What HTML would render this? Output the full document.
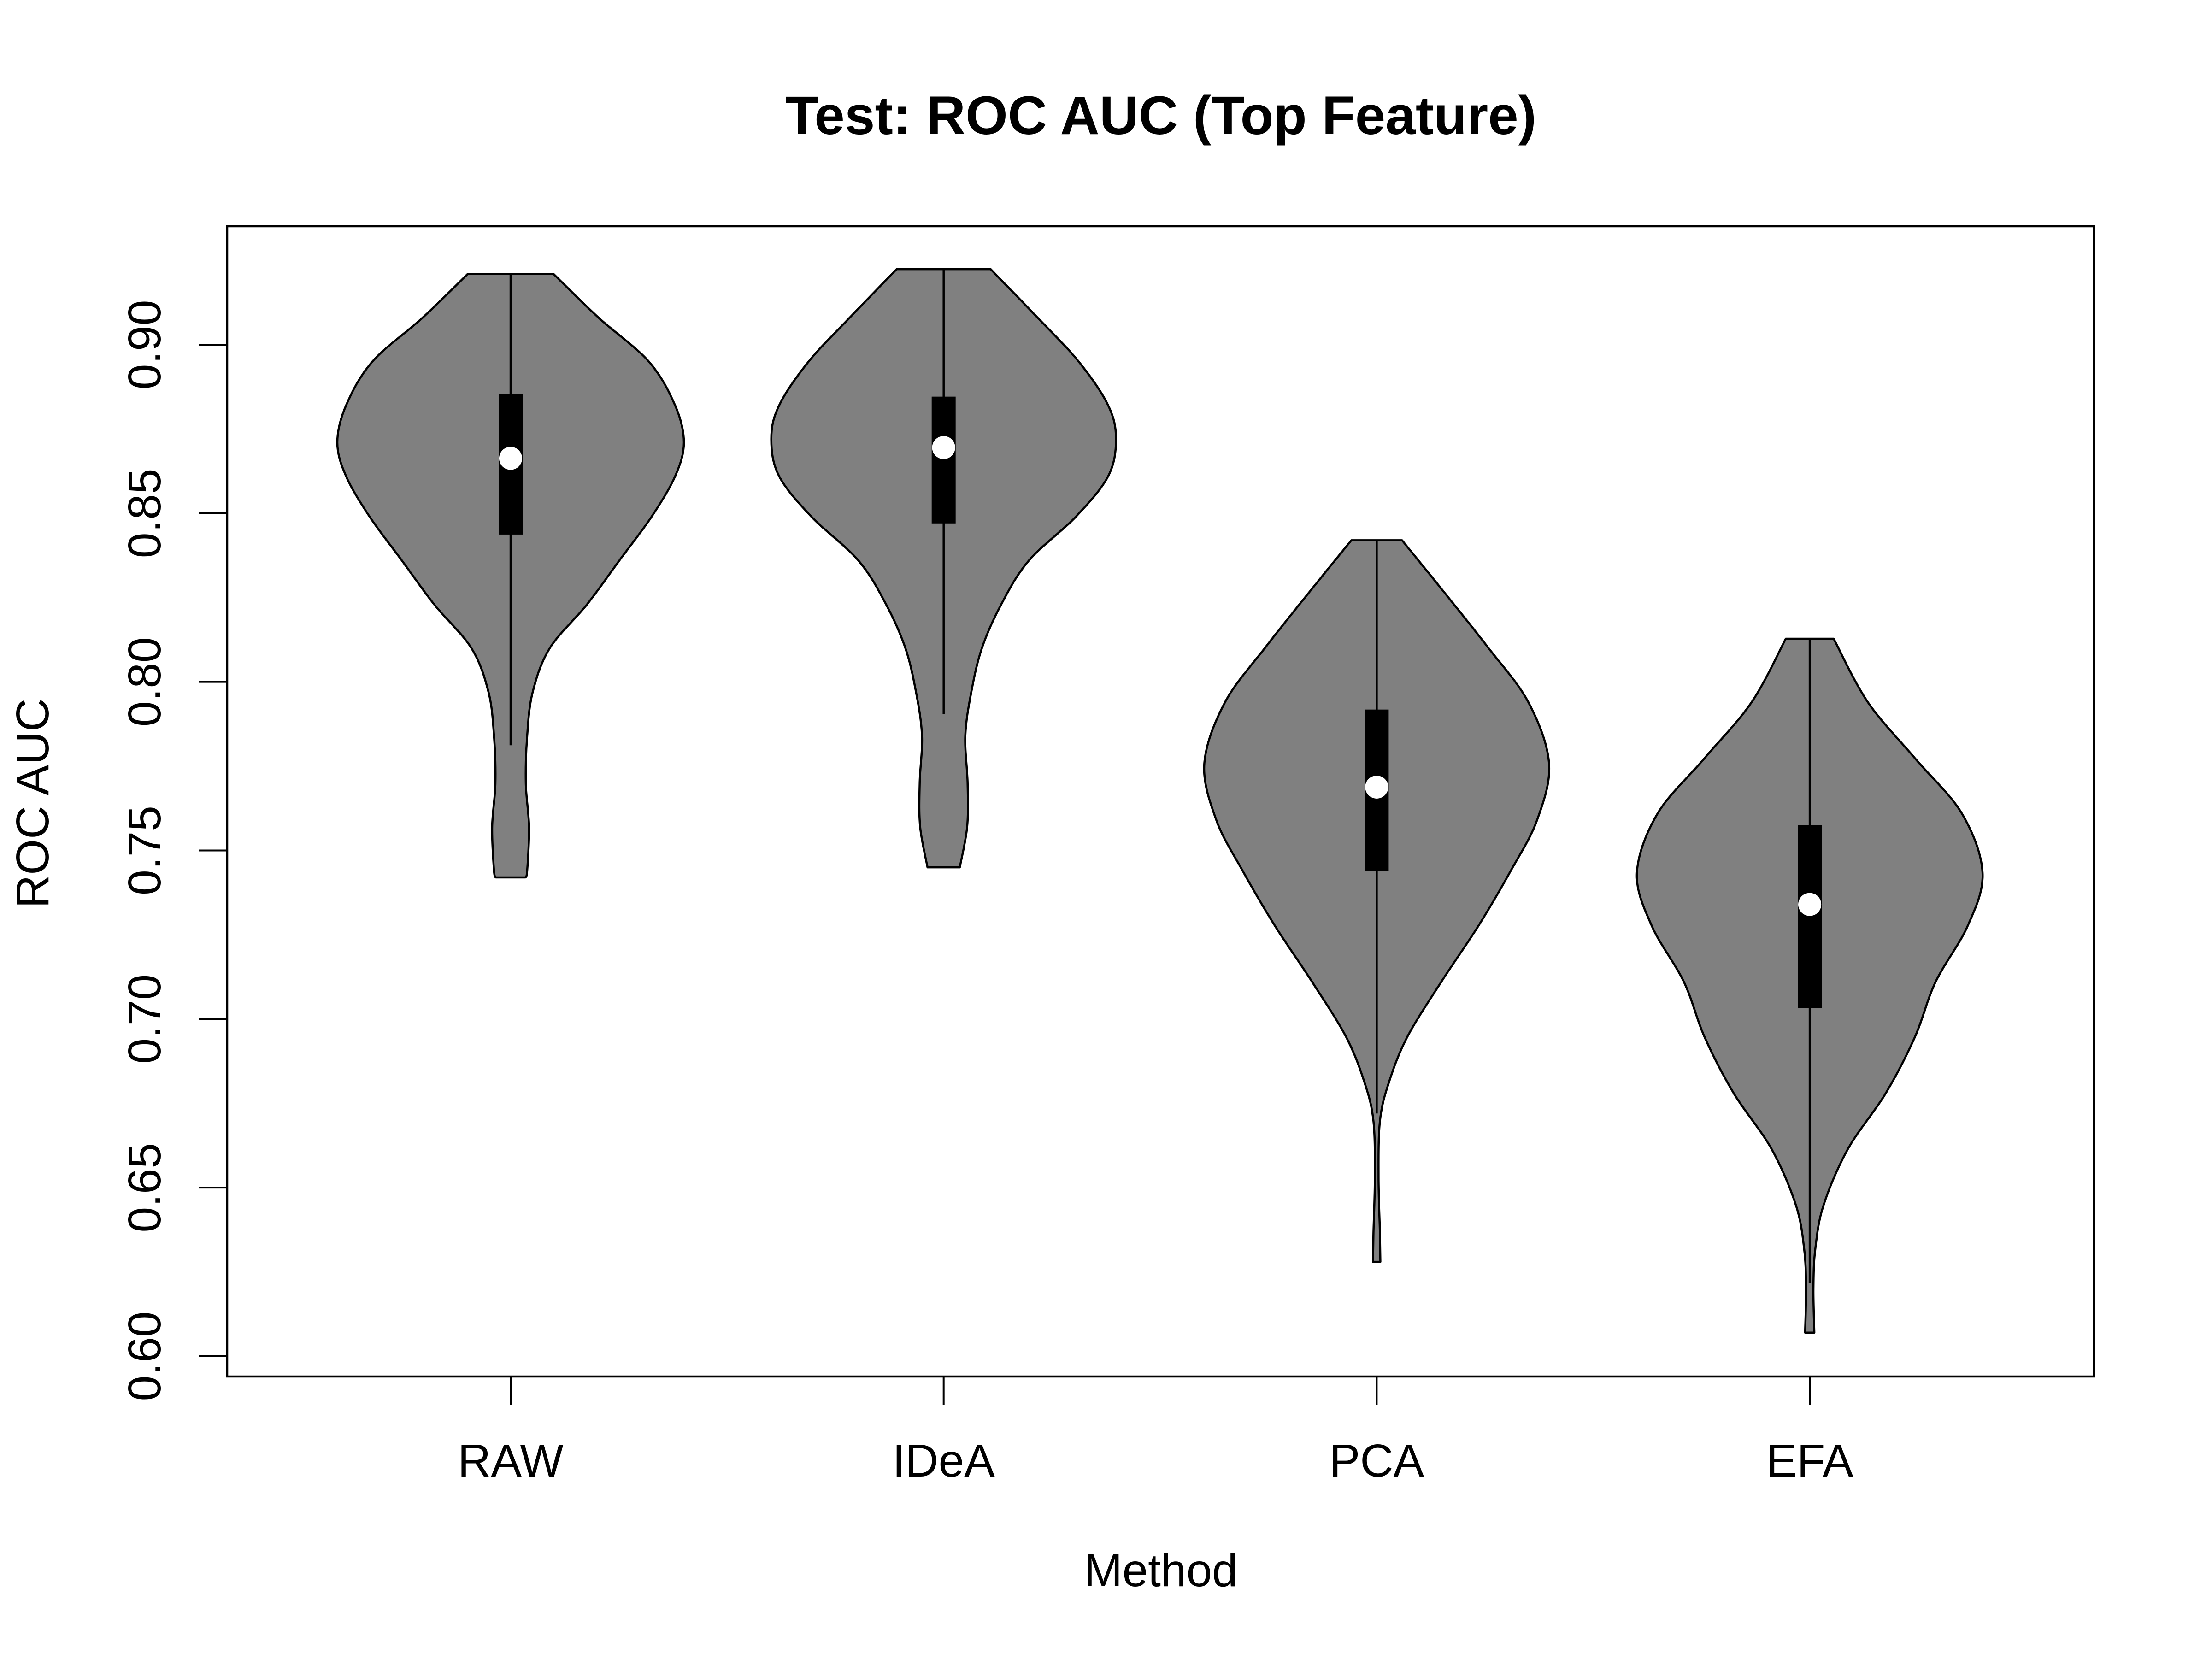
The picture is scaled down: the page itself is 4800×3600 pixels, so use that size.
<!DOCTYPE html>
<html><head><meta charset="utf-8">
<style>
html,body{margin:0;padding:0;background:#fff;}
svg{display:block;font-family:"Liberation Sans",Arial,sans-serif;}
</style></head>
<body>
<svg id="chart" width="4800" height="3600" viewBox="0 0 4800 3600" xmlns="http://www.w3.org/2000/svg">
<rect width="4800" height="3600" fill="#fff"/>
<text x="2519" y="291" text-anchor="middle" font-size="118" font-weight="bold">Test: ROC AUC (Top Feature)</text>
<g id="violins"></g>
<g id="axes"></g>
<rect x="493" y="491" width="4051" height="2496" fill="none" stroke="#000" stroke-width="4.5"/>
<text x="2519" y="3442" text-anchor="middle" font-size="100">Method</text>
<text transform="translate(105,1743) rotate(-90)" text-anchor="middle" font-size="100">ROC AUC</text>
</svg>
<script>
const categories = ["RAW", "IDeA", "PCA", "EFA"];
const yTicks = [0.60, 0.65, 0.70, 0.75, 0.80, 0.85, 0.90];
const yTickLabels = ["0.60", "0.65", "0.70", "0.75", "0.80", "0.85", "0.90"];
// density profiles: value levels (top->bottom) and relative half-widths
const rawLevels = [0.921,0.908,0.895,0.882,0.871,0.861,0.849,0.836,0.823,0.810,0.797,0.784,0.770,0.757,0.744,0.742];
const rawWidths = [93,191,300,357,376,357,306,236,166,85,48,36,33,40,36,32];
const ideaLevels = [0.9224,0.908,0.895,0.882,0.872,0.861,0.849,0.836,0.823,0.810,0.797,0.784,0.770,0.757,0.745];
const ideaWidths = [102,204,293,357,374,357,287,185,125,83,60,47,52,51,35];
const pcaLevels = [0.842,0.827,0.8105,0.794,0.7758,0.759,0.744,0.7277,0.711,0.6946,0.681,0.6697,0.653,0.6366,0.628];
const pcaWidths = [55,144,240,329,374,348,291,221,140,66,26,7,4,7,8];
const efaLevels = [0.8128,0.794,0.7774,0.761,0.7434,0.7277,0.711,0.6946,0.678,0.6615,0.6448,0.6317,0.620,0.607];
const efaWidths = [52,126,228,330,375,343,273,228,165,83,30,12,8,10];
const boxLower = [0.8437, 0.8470, 0.7438, 0.7032];
const boxUpper = [0.8855, 0.8846, 0.7918, 0.7575];
const medians = [0.8663, 0.8695, 0.7688, 0.7340];
const whiskerLow = [0.7812, 0.7905, 0.6720, 0.6217];
const whiskerHigh = [0.921, 0.9224, 0.842, 0.8128];

const NS = "http://www.w3.org/2000/svg";
function yScale(v){ return 2943 + (v - 0.60) * (748 - 2943) / 0.30; }
function xScale(i){ return 1108 + i * 939.7; }
function wScale(w){ return w; }
const profiles = [[rawLevels,rawWidths],[ideaLevels,ideaWidths],[pcaLevels,pcaWidths],[efaLevels,efaWidths]];

function smoothPath(pts){
  // Catmull-Rom to Bezier through pts
  let d = "M" + pts[0][0] + "," + pts[0][1];
  for (let i = 0; i < pts.length - 1; i++){
    const p0 = pts[Math.max(0,i-1)], p1 = pts[i], p2 = pts[i+1], p3 = pts[Math.min(pts.length-1,i+2)];
    const c1x = p1[0] + (p2[0]-p0[0])/6, c1y = p1[1] + (p2[1]-p0[1])/6;
    const c2x = p2[0] - (p3[0]-p1[0])/6, c2y = p2[1] - (p3[1]-p1[1])/6;
    d += " C" + c1x + "," + c1y + " " + c2x + "," + c2y + " " + p2[0] + "," + p2[1];
  }
  return d;
}

const vg = document.getElementById("violins");
categories.forEach((c, i) => {
  const cx = xScale(i);
  const lv = profiles[i][0], wd = profiles[i][1];
  const right = lv.map((v,k) => [cx + wScale(wd[k]), yScale(v)]);
  const left = lv.map((v,k) => [cx - wScale(wd[k]), yScale(v)]).reverse();
  let d = smoothPath(right);
  d += " L" + left[0][0] + "," + left[0][1];
  d += smoothPath(left).replace(/^M[^ ]+/, "");
  d += " Z";
  const g = document.createElementNS(NS, "g");
  
  
  const p = document.createElementNS(NS, "path");
  p.setAttribute("d", d);
  p.setAttribute("fill", "#808080");
  p.setAttribute("stroke", "#000");
  p.setAttribute("stroke-width", "4.5");
  p.setAttribute("stroke-linejoin", "round");
  
  
  g.appendChild(p);
  const wl = document.createElementNS(NS, "line");
  wl.setAttribute("x1", cx); wl.setAttribute("x2", cx);
  wl.setAttribute("y1", yScale(whiskerHigh[i])); wl.setAttribute("y2", yScale(whiskerLow[i]));
  wl.setAttribute("stroke", "#000"); wl.setAttribute("stroke-width", "4.5");
  
  
  g.appendChild(wl);
  const b = document.createElementNS(NS, "rect");
  b.setAttribute("x", cx - 26); b.setAttribute("width", 52);
  b.setAttribute("y", yScale(boxUpper[i])); b.setAttribute("height", yScale(boxLower[i]) - yScale(boxUpper[i]));
  b.setAttribute("fill", "#000");
  
  
  g.appendChild(b);
  const m = document.createElementNS(NS, "circle");
  m.setAttribute("cx", cx); m.setAttribute("cy", yScale(medians[i])); m.setAttribute("r", 25);
  m.setAttribute("fill", "#fff");
  
  
  g.appendChild(m);
  vg.appendChild(g);
});

const ag = document.getElementById("axes");
yTicks.forEach((t, k) => {
  const y = yScale(t);
  const l = document.createElementNS(NS, "line");
  l.setAttribute("x1", 432); l.setAttribute("x2", 493); l.setAttribute("y1", y); l.setAttribute("y2", y);
  l.setAttribute("stroke", "#000"); l.setAttribute("stroke-width", "4");
  
  
  ag.appendChild(l);
  const tx = document.createElementNS(NS, "text");
  tx.setAttribute("transform", "translate(348," + y + ") rotate(-90)");
  tx.setAttribute("text-anchor", "middle");
  tx.setAttribute("font-size", "100");
  tx.textContent = yTickLabels[k];
  
  
  ag.appendChild(tx);
});
categories.forEach((c, i) => {
  const x = xScale(i);
  const l = document.createElementNS(NS, "line");
  l.setAttribute("x1", x); l.setAttribute("x2", x); l.setAttribute("y1", 2987); l.setAttribute("y2", 3048);
  l.setAttribute("stroke", "#000"); l.setAttribute("stroke-width", "4");
  
  
  ag.appendChild(l);
  const tx = document.createElementNS(NS, "text");
  tx.setAttribute("x", x); tx.setAttribute("y", 3204);
  tx.setAttribute("text-anchor", "middle");
  tx.setAttribute("font-size", "100");
  tx.textContent = c;
  
  
  ag.appendChild(tx);
});
</script>
</body></html>
